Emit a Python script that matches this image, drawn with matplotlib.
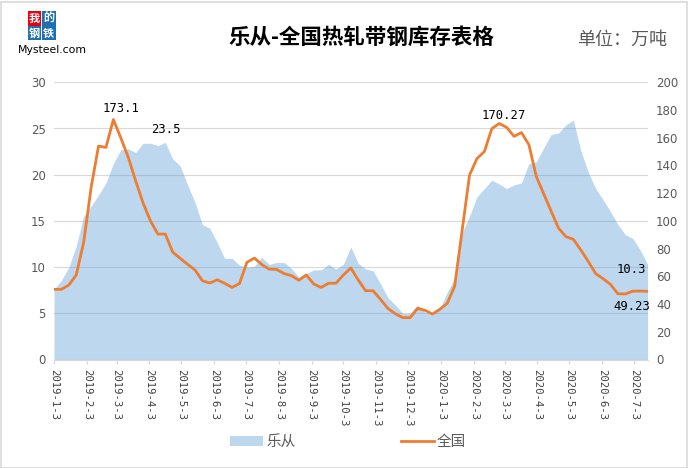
import numpy as np
import pandas as pd
import matplotlib
matplotlib.use('Agg')
import matplotlib.pyplot as plt
from matplotlib.patches import Rectangle, Patch
from matplotlib.lines import Line2D

plt.rcParams['font.family'] = ['DejaVu Sans']
CJK = ['Noto Sans CJK SC', 'DejaVu Sans']

# weekly data, 2019-1-3 .. 2020-7-16
dates = pd.date_range('2019-01-03', periods=81, freq='7D')

# 乐从 inventory (left axis, 万吨)
lecong = [7.6, 8.55, 10.0, 12.3, 15.5, 16.6, 17.8, 19.1, 21.2, 22.7,
          22.8, 22.4, 23.4, 23.4, 23.15, 23.5, 21.7, 20.95, 18.9, 17.0,
          14.6, 14.2, 12.65, 10.95, 10.95, 10.2, 10.0, 10.1, 11.05, 10.3,
          10.5, 10.5, 9.85, 8.9, 9.3, 9.7, 9.7, 10.3, 9.8, 10.3,
          12.2, 10.4, 9.8, 9.6, 8.2, 6.7, 5.9, 5.0, 5.0, 5.9,
          5.1, 5.0, 5.5, 7.3, 8.8, 13.7, 15.5, 17.6, 18.5, 19.4,
          19.0, 18.5, 18.9, 19.1, 21.2, 21.4, 22.9, 24.35, 24.5, 25.4,
          25.9, 22.6, 20.3, 18.5, 17.3, 16.0, 14.6, 13.5, 13.1, 11.85,
          10.3]

# 全国 inventory (right axis, 万吨)
national = [50.6, 50.6, 53.7, 61.0, 84.5, 124, 154, 153, 173.1, 160,
            146, 129, 113, 100, 90.5, 90.5, 77.5, 73, 68.7, 64.6,
            56.8, 55.2, 57.5, 55, 52, 54.8, 70.1, 73.2, 68.5, 65.2,
            65, 62, 60.5, 57.2, 61, 54.5, 52, 55, 55, 61,
            66, 57.4, 49.6, 49.6, 43.4, 36.9, 33, 30.2, 30.2, 36.9,
            35.5, 32.8, 36.2, 40.5, 53, 93, 133, 145, 150, 166.5,
            170.27, 167.5, 161, 163.7, 155, 132, 119.5, 107, 94.7, 88.6,
            86.7, 79, 70.8, 62, 58.3, 54.2, 47.4, 47.3, 49.3, 49.4,
            49.23]

tick_labels = ['2019-1-3', '2019-2-3', '2019-3-3', '2019-4-3', '2019-5-3',
               '2019-6-3', '2019-7-3', '2019-8-3', '2019-9-3', '2019-10-3',
               '2019-11-3', '2019-12-3', '2020-1-3', '2020-2-3', '2020-3-3',
               '2020-4-3', '2020-5-3', '2020-6-3', '2020-7-3']
tick_dates = pd.to_datetime(tick_labels, format='%Y-%m-%d')

W, H = 688, 468
fig = plt.figure(figsize=(W / 100, H / 100), dpi=100)
ax = fig.add_axes([54 / W, 1 - 359.5 / H, (647.6 - 54) / W, (359.5 - 82.3) / H])

area_col = '#5b9bd5'
line_col = '#ed7d31'
grid_col = '#d9d9d9'
txt_col = '#595959'

ax.fill_between(dates, 0, lecong, color=area_col, alpha=0.4, lw=0)
ax.set_ylim(0, 30)
ax.set_yticks(np.arange(0, 31, 5))
ax.set_xlim(dates[0], dates[-1])
ax.set_axisbelow(True)
ax.grid(axis='y', color=grid_col, lw=0.8)
ax.grid(axis='x', visible=False)
for s in ['left', 'right', 'top']:
    ax.spines[s].set_visible(False)
ax.spines['bottom'].set_color(grid_col)
ax.tick_params(axis='y', length=0, pad=6, labelsize=8.5, labelcolor=txt_col)
ax.set_xticks(tick_dates)
ax.set_xticklabels(tick_labels, rotation=-90, fontsize=7.7, family='DejaVu Sans Mono',
                   color='#404040')
ax.tick_params(axis='x', length=3, width=0.8, color=grid_col, pad=4)

ax2 = ax.twinx()
ax2.plot(dates, national, color=line_col, lw=2.0, solid_joinstyle='round')
ax2.set_ylim(0, 200)
ax2.set_yticks(np.arange(0, 201, 20))
for s in ['left', 'right', 'top', 'bottom']:
    ax2.spines[s].set_visible(False)
ax2.tick_params(axis='y', length=0, pad=6, labelsize=8.5, labelcolor=txt_col)

lab = dict(fontsize=8.8, family='DejaVu Sans Mono', color='black',
           textcoords='offset points')
ax2.annotate('173.1', xy=(dates[8], national[8]), xytext=(5.8, 7.7), ha='center', va='center', **lab)
ax.annotate('23.5', xy=(dates[15], lecong[15]), xytext=(0.4, 8.9), ha='center', va='center', **lab)
ax2.annotate('170.27', xy=(dates[60], national[60]), xytext=(2.9, 6.1), ha='center', va='center', **lab)
ax.annotate('10.3', xy=(dates[80], lecong[80]), xytext=(-1, -3.6), ha='right', va='center', **lab)
ax2.annotate('49.23', xy=(dates[80], national[80]), xytext=(2.2, -10.8), ha='right', va='center', **lab)

# title and unit
fig.text(361 / W, 1 - 37 / H, '乐从-全国热轧带钢库存表格', ha='center', va='center',
         fontsize=15.5, fontweight='bold', family=CJK, color='black')
fig.text(577 / W, 1 - 40 / H, '单位：万吨', ha='left', va='center',
         fontsize=13, family=CJK, color=txt_col)

# logo
boxes = [('我', 27.7, 11.5, '#e60012'), ('的', 42, 11.5, '#1f6fb5'),
         ('钢', 27.7, 26, '#1f6fb5'), ('铁', 42, 26, '#1f6fb5')]
for ch, bx, by, c in boxes:
    fig.patches.append(Rectangle((bx / W, 1 - (by + 14) / H), 13.5 / W, 14 / H,
                                 transform=fig.transFigure, color=c, lw=0))
    fig.text((bx + 6.75) / W, 1 - (by + 7) / H, ch, ha='center', va='center',
             fontsize=8, color='white', family=CJK, fontweight='bold')
fig.text(18 / W, 1 - 53 / H, 'Mysteel.com', ha='left', va='baseline',
         fontsize=7.8, color='black')

# legend
handles = [Patch(facecolor=area_col, alpha=0.4, edgecolor='none'),
           Line2D([0], [0], color=line_col, lw=2.0)]
fig.legend(handles, ['乐从', '全国'], loc='center', bbox_to_anchor=(348 / W, 1 - 442 / H),
           ncol=2, frameon=False, prop={'family': CJK, 'size': 10.5},
           labelcolor=txt_col, handlelength=2.3, handleheight=0.65,
           handletextpad=0.2, columnspacing=7.2)

# outer border
fig.patches.append(Rectangle((0.5 / W, 0.5 / H), (W - 2) / W, (H - 2) / H,
                             transform=fig.transFigure, fill=False,
                             edgecolor=grid_col, lw=1.2))

fig.savefig('out.png', dpi=100)
